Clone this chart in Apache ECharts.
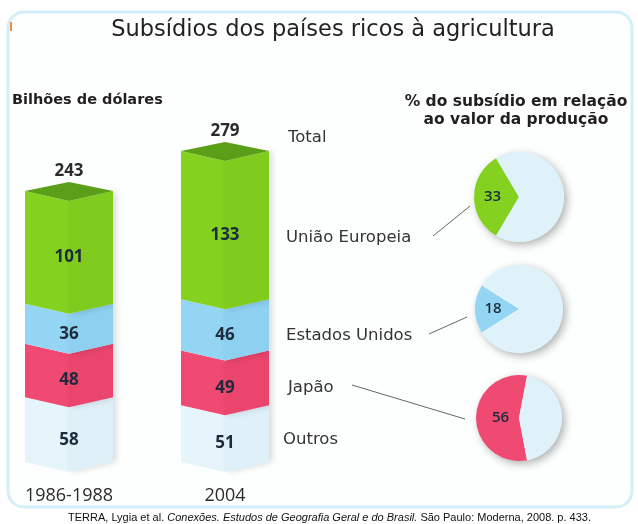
<!DOCTYPE html>
<html>
<head>
<meta charset="utf-8">
<script src="https://cdn.jsdelivr.net/npm/echarts@6/dist/echarts.min.js"></script>
<style>
html, body { margin: 0; padding: 0; background: #fff; }
#container { width: 638px; height: 524px; }
</style>
</head>
<body>
<div id="container"></div>
<script>
// data (bilhões de dólares)
var periods = ['1986-1988', '2004'];
var outros = [58, 51];
var japao = [48, 49];
var estadosUnidos = [36, 46];
var uniaoEuropeia = [101, 133];
var totals = [243, 279];

// % do subsídio em relação ao valor da produção
var pctRegions = ['União Europeia', 'Estados Unidos', 'Japão'];
var pctValues = [33, 18, 56];

var green = '#84d120', greenSide = '#7fcb1e', greenTop = '#5a9f17';
var blue = '#93d5f3', blueSide = '#8dd0f0';
var pink = '#f04a72', pinkSide = '#ea456d';
var pale = '#e6f4fb', paleSide = '#e0f0f9';
var pieBg = '#dff2fa';
var textDark = '#1d2b3c';
var labelFont = '"DejaVu Sans"';

var BAR_W = 88;
var DEPTH = 10;

// stack the segments bottom to top
var layers = [
    { name: 'Outros', values: outros, color: pale, side: paleSide },
    { name: 'Japão', values: japao, color: pink, side: pinkSide },
    { name: 'Estados Unidos', values: estadosUnidos, color: blue, side: blueSide },
    { name: 'União Europeia', values: uniaoEuropeia, color: green, side: greenSide, top: true }
];

var base = periods.map(function () { return 0; });
var series = [];
layers.forEach(function (layer) {
    var data = periods.map(function (p, i) {
        var row = [i, base[i], base[i] + layer.values[i], layer.values[i]];
        base[i] += layer.values[i];
        return row;
    });
    series.push({
        name: layer.name,
        type: 'custom',
        renderItem: prism(layer.color, layer.side, layer.top),
        data: data,
        silent: true
    });
});

// totals on top
series.push({
    name: 'Total',
    type: 'custom',
    data: periods.map(function (p, i) { return [i, totals[i]]; }),
    renderItem: function (params, api) {
        var p = api.coord([api.value(0), api.value(1)]);
        return {
            type: 'text',
            style: {
                text: String(api.value(1)), x: p[0], y: p[1] - 20,
                align: 'center', verticalAlign: 'middle',
                font: 'bold 17px "Open Sans"', fill: '#2b2b2b'
            }
        };
    },
    silent: true
});

function prism(color, side, isTop) {
    return function (params, api) {
        var x = api.value(0);
        var p0 = api.coord([x, api.value(1)]);
        var p1 = api.coord([x, api.value(2)]);
        var w = BAR_W / 2, d = DEPTH;
        var xl = p0[0] - w, xc = p0[0], xr = p0[0] + w;
        var yb = p0[1], yt = p1[1];
        var children = [
            {
                type: 'polygon',
                shape: { points: [[xl, yb], [xc, yb + d], [xc, yt + d], [xl, yt]] },
                style: { fill: color }
            },
            {
                type: 'polygon',
                shape: { points: [[xc, yb + d], [xr, yb], [xr, yt], [xc, yt + d]] },
                style: { fill: side, shadowBlur: 6, shadowOffsetX: 3, shadowColor: 'rgba(0,0,0,0.15)' }
            }
        ];
        if (isTop) {
            children.push({
                type: 'polygon',
                shape: { points: [[xl, yt], [xc, yt - 9], [xr, yt], [xc, yt + d]] },
                style: { fill: greenTop }
            });
        }
        children.push({
            type: 'text',
            style: {
                text: String(api.value(3)), x: xc, y: (yb + yt) / 2 + d,
                align: 'center', verticalAlign: 'middle',
                font: 'bold 17px "Open Sans"', fill: textDark
            }
        });
        return { type: 'group', children: children };
    };
}

// pies
var pieColors = [green, blue, pink];
var pieCenters = [[519, 197], [519, 309], [519, 418]];
var pieRadius = [45, 44, 43];
var pieLabelOffset = [[-1, 0], [-1, 0], [6, 0]];
pctValues.forEach(function (v, i) {
    // backing disc carrying the soft shadow
    series.push({
        type: 'pie', silent: true, center: pieCenters[i], radius: pieRadius[i],
        label: { show: false }, labelLine: { show: false }, animation: false,
        itemStyle: { color: pieBg, shadowBlur: 8, shadowOffsetX: 3, shadowOffsetY: 3, shadowColor: 'rgba(0,0,0,0.3)' },
        data: [{ value: 1 }]
    });
    series.push({
        name: pctRegions[i],
        type: 'pie', silent: true, center: pieCenters[i], radius: pieRadius[i],
        startAngle: 180 + v * 1.8,
        animation: false,
        labelLine: { show: false },
        data: [
            { value: v, itemStyle: { color: pieColors[i] },
              label: { show: true, position: 'inside', formatter: String(v), offset: pieLabelOffset[i],
                       fontFamily: 'Open Sans', fontSize: 15, fontWeight: 600, color: textDark } },
            { value: 100 - v, itemStyle: { color: pieBg }, label: { show: false } }
        ]
    });
});

function label(text, x, y) {
    return {
        type: 'text', x: x, y: y,
        style: { text: text, verticalAlign: 'middle', font: '16.5px ' + labelFont, fill: '#333' }
    };
}

var dom = document.getElementById('container');
var myChart = echarts.init(dom);

var option = {
    animation: false,
    backgroundColor: '#ffffff',
    grid: { left: 69, width: 156, top: 127.5, height: 334.5 },
    xAxis: {
        type: 'category',
        data: periods,
        boundaryGap: false,
        axisLine: { show: false },
        axisTick: { show: false },
        axisLabel: { margin: 25, fontFamily: 'Open Sans', fontSize: 18, color: '#2b2b2b' }
    },
    yAxis: {
        type: 'value', min: 0, max: 300, show: false
    },
    graphic: [
        {
            type: 'rect', z: -10,
            shape: { x: 8, y: 12, width: 624, height: 495, r: 16 },
            style: { fill: '#fdfefe', stroke: '#d2eef8', lineWidth: 3 }
        },
        { type: 'rect', shape: { x: 10, y: 22, width: 2, height: 9 }, style: { fill: '#f28a3c' } },
        {
            type: 'text', x: 333, y: 30,
            style: { text: 'Subsídios dos países ricos à agricultura', align: 'center', verticalAlign: 'middle',
                     font: '22.5px ' + labelFont, fill: '#231f20' }
        },
        {
            type: 'text', x: 12, y: 100,
            style: { text: 'Bilhões de dólares', verticalAlign: 'middle', font: 'bold 14.5px ' + labelFont, fill: '#231f20' }
        },
        {
            type: 'text', x: 516, y: 111,
            style: { text: '% do subsídio em relação\nao valor da produção', align: 'center', verticalAlign: 'middle',
                     lineHeight: 18, font: 'bold 15.5px ' + labelFont, fill: '#231f20' }
        },
        label('Total', 288, 138),
        label('União Europeia', 286, 238),
        label('Estados Unidos', 286, 336),
        label('Japão', 288, 388),
        label('Outros', 283, 440),
        { type: 'line', shape: { x1: 433, y1: 236, x2: 470, y2: 206 }, style: { stroke: '#666', lineWidth: 1 } },
        { type: 'line', shape: { x1: 429, y1: 334, x2: 467, y2: 317 }, style: { stroke: '#666', lineWidth: 1 } },
        { type: 'line', shape: { x1: 352, y1: 385, x2: 465, y2: 419 }, style: { stroke: '#666', lineWidth: 1 } },
        {
            type: 'text', x: 68, y: 518,
            style: {
                text: '{n|TERRA, Lygia et al. }{i|Conexões. Estudos de Geografia Geral e do Brasil.}{n| São Paulo: Moderna, 2008. p. 433.}',
                verticalAlign: 'middle',
                rich: {
                    n: { fontFamily: 'Liberation Sans', fontSize: 11, fill: '#111' },
                    i: { fontFamily: 'Liberation Sans', fontSize: 11, fontStyle: 'italic', fill: '#111' }
                }
            }
        }
    ],
    series: series
};

if (option && typeof option === "object") {
    myChart.setOption(option, true);
}
</script>
</body>
</html>
